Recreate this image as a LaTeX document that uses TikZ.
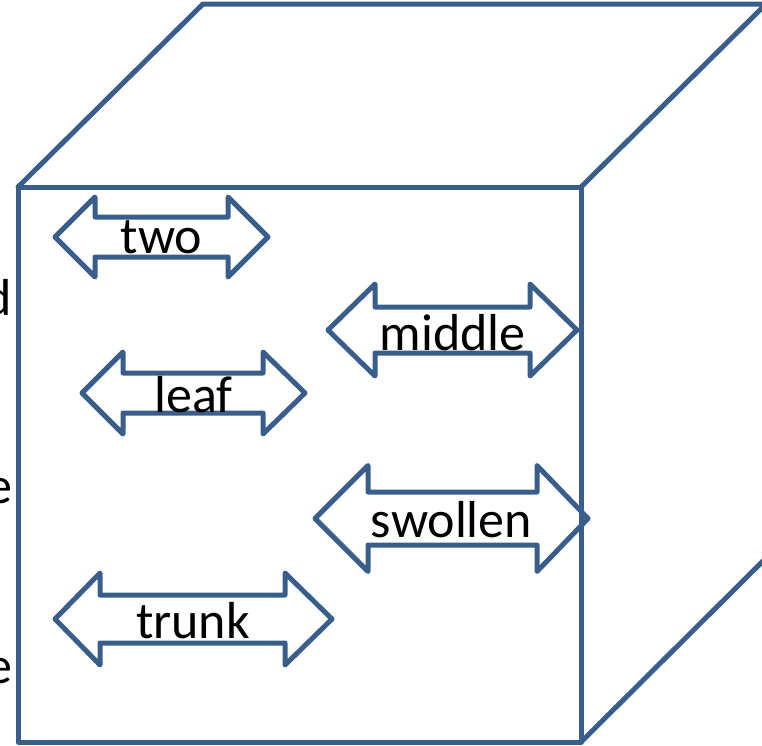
\documentclass[tikz,border=0pt]{standalone}
\usepackage{fontspec}
\setmainfont{Carlito}
\definecolor{cubeblue}{RGB}{58,94,140}
\tikzset{
  edge/.style={draw=cubeblue, line width=5pt, line join=round, line cap=round},
  lbl/.style={anchor=base, inner sep=0pt, font=\fontsize{52}{60}\selectfont},
  cut/.style={anchor=base east, inner sep=0pt, font=\fontsize{52}{60}\selectfont}
}
% #1 left tip x, #2 left base x, #3 right base x, #4 right tip x, #5 centre y, #6 head half, #7 shaft half
\newcommand\dblarr[7]{%
  \draw[edge] (#1,#5) -- (#2,#5-#6) -- (#2,#5-#7) -- (#3,#5-#7) -- (#3,#5-#6) -- (#4,#5)
    -- (#3,#5+#6) -- (#3,#5+#7) -- (#2,#5+#7) -- (#2,#5+#6) -- cycle;}
\begin{document}
\begin{tikzpicture}[x=1pt,y=-1pt]
\useasboundingbox (0,0) rectangle (762,745);
% cube
\coordinate (fa) at (18,187);
\coordinate (fb) at (581,187);
\coordinate (fc) at (581,742);
\coordinate (fd) at (18,742);
\coordinate (ba) at (203,4);
\coordinate (bb) at (766,4);
\coordinate (bc) at (766,558);
\draw[edge] (fa) -- (fb) -- (fc) -- (fd) -- cycle;
\draw[edge] (fa) -- (ba) -- (bb) -- (fb);
\draw[edge] (bb) -- (bc) -- (fc);
% cut-off letters at the left edge
\node[cut] (c1) at (12,315) {d};
\node[cut] (c2) at (12.5,503) {e};
\node[cut] (c3) at (12.5,683) {e};
% double arrows
\dblarr{55}{95}{228}{268}{237}{40}{20}
\node[lbl] (two) at (161.5,253) {two};
\dblarr{82}{123}{263}{305}{393}{41}{20}
\node[lbl] (leaf) at (193.5,412) {leaf};
\dblarr{328}{375}{530}{577}{330}{46}{23}
\node[lbl] (middle) at (452.5,350) {middle};
\dblarr{315}{368}{537}{588}{518.5}{53}{26.5}
\node[lbl] (swollen) at (451.5,537) {swollen};
\dblarr{55}{100}{285}{332}{619}{46}{24}
\node[lbl] (trunk) at (193,638) {trunk};
\end{tikzpicture}
\end{document}
